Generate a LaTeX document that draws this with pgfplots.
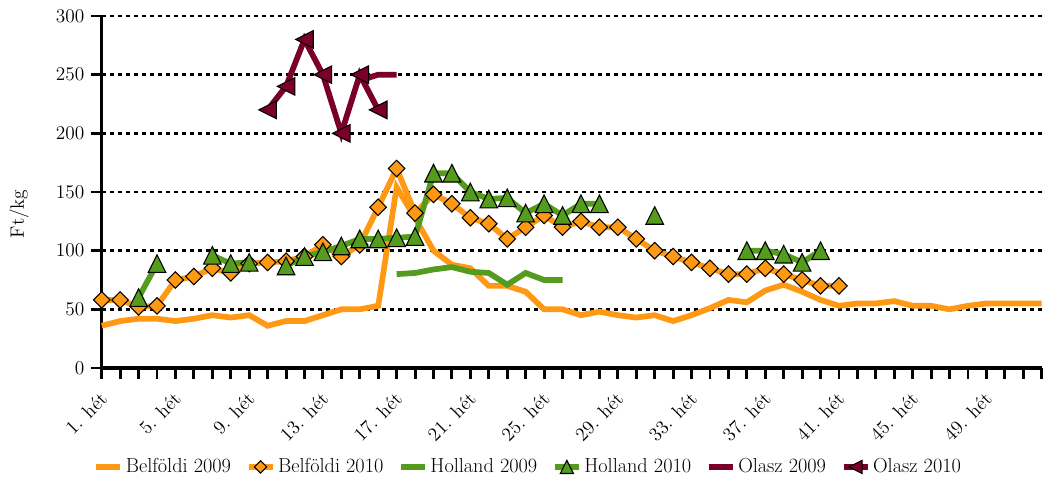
\documentclass[border=0pt]{standalone}
\usepackage{pgfplots}
\pgfplotsset{compat=1.18}
\definecolor{bel}{RGB}{255,153,20}
\definecolor{hol}{RGB}{84,155,30}
\definecolor{ola}{RGB}{122,0,40}
% Excel-like markers: isosceles triangle and square diamond
\pgfdeclareplotmark{xltri}{%
  \pgfpathmoveto{\pgfqpoint{0pt}{\pgfplotmarksize}}%
  \pgfpathlineto{\pgfqpoint{\pgfplotmarksize}{-\pgfplotmarksize}}%
  \pgfpathlineto{\pgfqpoint{-\pgfplotmarksize}{-\pgfplotmarksize}}%
  \pgfpathclose\pgfusepathqfillstroke}
\pgfdeclareplotmark{xldia}{%
  \pgfpathmoveto{\pgfqpoint{0pt}{\pgfplotmarksize}}%
  \pgfpathlineto{\pgfqpoint{\pgfplotmarksize}{0pt}}%
  \pgfpathlineto{\pgfqpoint{0pt}{-\pgfplotmarksize}}%
  \pgfpathlineto{\pgfqpoint{-\pgfplotmarksize}{0pt}}%
  \pgfpathclose\pgfusepathqfillstroke}
\newcommand{\chfont}{\fontsize{14.5}{17}\selectfont}
\newcommand{\lgfont}{\fontsize{15.2}{18}\selectfont}
\begin{document}
\chfont
\begin{tikzpicture}
\begin{axis}[
  name=ax,
  scale only axis,
  width=705pt, height=264pt,
  xmin=1, xmax=52, ymin=0, ymax=300,
  clip=false,
  unbounded coords=jump,
  axis x line*=bottom, axis y line*=left,
  axis line style={line width=2.4pt},
  tick style={line width=2.2pt, black},
  tick align=outside,
  major tick length=8pt, minor tick length=8pt,
  ytick={0,50,...,300},
  xtick={1,5,...,49},
  minor xtick={1,...,52},
  xticklabels={1. hét,5. hét,9. hét,13. hét,17. hét,21. hét,25. hét,29. hét,33. hét,37. hét,41. hét,45. hét,49. hét},
  xticklabel style={rotate=45, anchor=north east, xshift=-3pt, font=\chfont},
  yticklabel style={font=\chfont},
  /pgf/number format/assume math mode=true,
  ymajorgrids,
  major grid style={black, line width=2pt, dash pattern=on 3pt off 3pt},
  ylabel={Ft/kg},
  ylabel style={at={(axis description cs:-0.088,0.4375)}, anchor=center, font=\chfont},
  legend columns=6,
  legend style={at={(axis description cs:0.454,-0.281)}, anchor=center, draw=none, fill=none,
    font=\lgfont, /tikz/every even column/.append style={column sep=9pt}},
  legend image code/.code={\draw[mark repeat=2,mark phase=2,#1,every mark/.append style={scale=0.75}]
    plot coordinates {(0pt,0pt) (9pt,0pt) (18pt,0pt)};},
]
\addplot[bel, line width=4.3pt, mark=none] coordinates {
(1,36) (2,40) (3,42) (4,42) (5,40) (6,42) (7,45) (8,43) (9,45) (10,36)
(11,40) (12,40) (13,45) (14,50) (15,50) (16,53) (17,154) (18,128) (19,100) (20,88)
(21,85) (22,70) (23,70) (24,65) (25,50) (26,50) (27,45) (28,48) (29,45) (30,43)
(31,45) (32,40) (33,45) (34,51) (35,58) (36,56) (37,66) (38,71) (39,65) (40,58)
(41,53) (42,55) (43,55) (44,57) (45,53) (46,53) (47,50) (48,53) (49,55) (50,55)
(51,55) (52,55)};
\addlegendentry{Belföldi 2009}
\addplot[bel, line width=4.3pt, mark=xldia, mark size=6.2pt,
  mark options={fill=bel, draw=black, line width=0.8pt, solid}] coordinates {
(1,58) (2,58) (3,52) (4,53) (5,75) (6,78) (7,85) (8,81) (9,89) (10,90)
(11,91) (12,95) (13,105) (14,95) (15,105) (16,137) (17,170) (18,132) (19,148) (20,140)
(21,128) (22,123) (23,110) (24,120) (25,130) (26,120) (27,125) (28,120) (29,120) (30,110)
(31,100) (32,95) (33,90) (34,85) (35,80) (36,80) (37,85) (38,80) (39,75) (40,70)
(41,70)};
\addlegendentry{Belföldi 2010}
\addplot[hol, line width=4.3pt, mark=none] coordinates {
(17,80) (18,81) (19,84) (20,86) (21,82) (22,81) (23,71) (24,81) (25,75) (26,75)};
\addlegendentry{Holland 2009}
\addplot[hol, line width=4.3pt, mark=xltri, mark size=6.6pt,
  mark options={fill=hol, draw=black, line width=0.8pt, solid}] coordinates {
(3,60) (4,89) (5,nan) (6,nan) (7,96) (8,89) (9,90) (10,nan)
(11,87) (12,95) (13,99) (14,104) (15,110) (16,110) (17,111) (18,112) (19,166) (20,166)
(21,150) (22,144) (23,145) (24,132) (25,140) (26,130) (27,140) (28,140) (29,nan) (30,nan)
(31,130) (32,nan) (33,nan) (34,nan) (35,nan) (36,100) (37,100) (38,97) (39,90) (40,100)};
\addlegendentry{Holland 2010}
\addplot[ola, line width=4.3pt, mark=none] coordinates {
(15,245) (16,250) (17,250)};
\addlegendentry{Olasz 2009}
\addplot[ola, line width=4.3pt, mark=xltri, mark size=6.6pt,
  mark options={fill=ola, draw=black, line width=0.8pt, solid, rotate=90}] coordinates {
(10,220) (11,240) (12,280) (13,250) (14,200) (15,250) (16,220)};
\addlegendentry{Olasz 2010}
\end{axis}
\pgfresetboundingbox
\path[use as bounding box] ([xshift=-76.3pt, yshift=-87.75pt]ax.south west)
  rectangle ([xshift=3.2pt, yshift=12pt]ax.north east);
\end{tikzpicture}
\end{document}
